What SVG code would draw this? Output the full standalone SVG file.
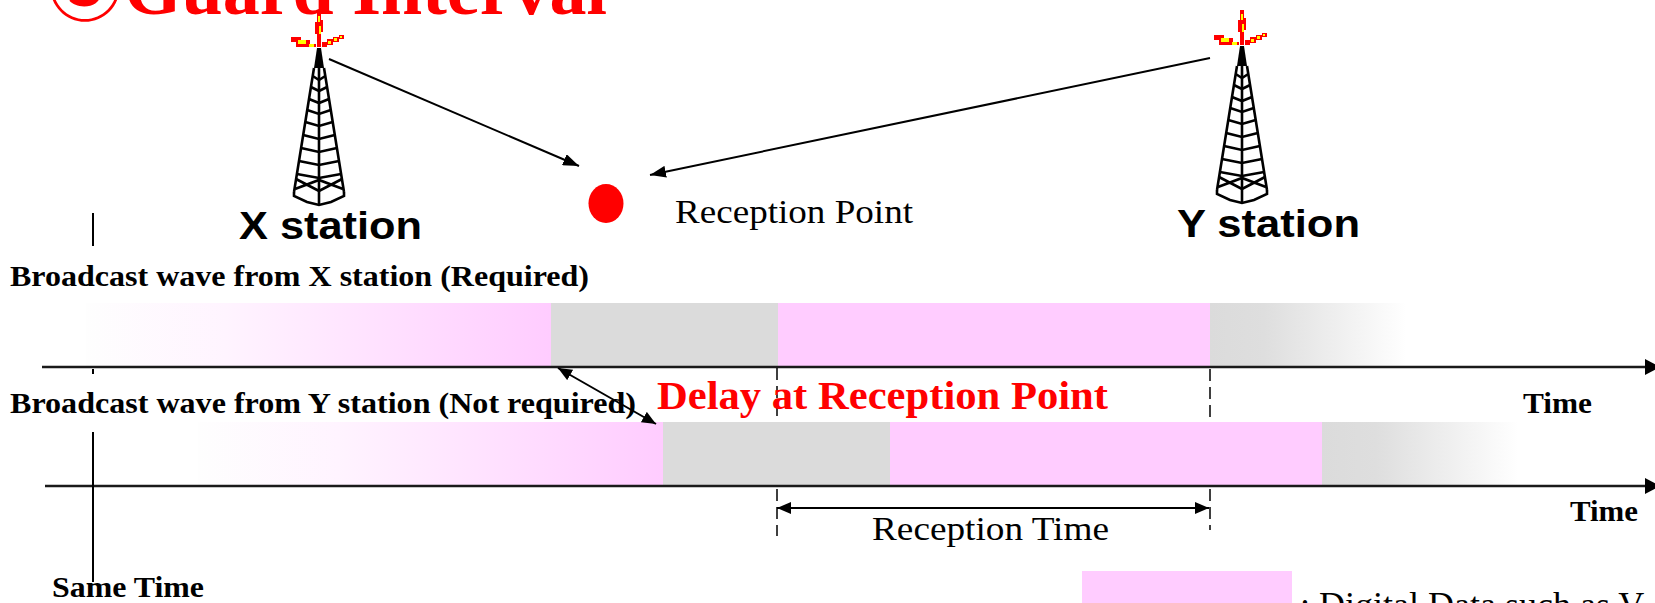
<svg xmlns="http://www.w3.org/2000/svg" width="1655" height="603" viewBox="0 0 1655 603">
  <style>
    .serif { font-family: "Liberation Serif", "Times New Roman", serif; }
    .sans { font-family: "Liberation Sans", Arial, sans-serif; }
    .bold { font-weight: bold; }
    .red { fill: #FF0000; }
    .ink { fill: #000000; }
    .axis { stroke: #1a1a1a; stroke-width: 2.5; fill: none; }
    .conn { stroke: #000000; stroke-width: 2; fill: none; }
    .dash { stroke: #000000; stroke-width: 1.5; stroke-dasharray: 12 6; fill: none; }
    .rule { stroke: #000000; stroke-width: 2; fill: none; }
    .tw { stroke: #000000; stroke-width: 2.6; fill: none; stroke-linejoin: miter; }
    .pink { fill: #FFCCFF; }
    .grey { fill: #DBDBDB; }
  </style>
  <defs>
    <linearGradient id="pinkIn" x1="0" y1="0" x2="1" y2="0">
      <stop offset="0" stop-color="#FEFEFE"/>
      <stop offset="0.3" stop-color="#FFF4FF"/>
      <stop offset="1" stop-color="#FFCCFF"/>
    </linearGradient>
    <linearGradient id="greyOut" x1="0" y1="0" x2="1" y2="0">
      <stop offset="0" stop-color="#DBDBDB"/>
      <stop offset="0.25" stop-color="#DEDEDE"/>
      <stop offset="0.9" stop-color="#FFFFFF"/>
    </linearGradient>
    <marker id="head" viewBox="0 0 16 12" refX="16" refY="6" markerWidth="16" markerHeight="12" markerUnits="userSpaceOnUse" orient="auto-start-reverse">
      <path d="M0,0 L16,6 L0,12 z" fill="#000"/>
    </marker>
    <marker id="axisHead" viewBox="0 0 15 16" refX="15" refY="8" markerWidth="15" markerHeight="16" markerUnits="userSpaceOnUse" orient="auto">
      <path d="M0,0 L15,8 L0,16 z" fill="#000"/>
    </marker>
    <marker id="smallHead" viewBox="0 0 14 12" refX="14" refY="6" markerWidth="14" markerHeight="12" markerUnits="userSpaceOnUse" orient="auto-start-reverse">
      <path d="M0,0 L14,6 L0,12 z" fill="#000"/>
    </marker>
    <!-- lattice transmission tower, spine at x=0 -->
    <g id="tower">
      <!-- antenna spark -->
      <polygon points="-2,10 2,10 2,18 4,18 4,30 2,30 2,45 -2,45 -2,32 -4,32 -4,20 -2,20" fill="#FF0000"/>
      <rect x="-1" y="14" width="2" height="6" fill="#FFFF00"/>
      <rect x="0" y="24" width="2" height="8" fill="#FFFF00"/>
      <polygon points="-28,35 -18,35 -18,38 -9,38 -9,42 -3,42 -3,45 -23,45 -23,40 -28,40" fill="#FF0000"/>
      <rect x="-21" y="38" width="8" height="4" fill="#FFFF00"/>
      <rect x="-10" y="42" width="5" height="3" fill="#FFFF00"/>
      <polygon points="3,45 3,40 8,40 8,37 14,37 14,35 20,35 20,33 25,33 25,37 20,37 20,40 14,40 14,43 8,43 8,45" fill="#FF0000"/>
      <rect x="9" y="39" width="3" height="3" fill="#FFFF00"/>
      <rect x="15" y="36" width="3" height="3" fill="#FFFF00"/>
      <rect x="21" y="34" width="2" height="2" fill="#FFFF00"/>
      <!-- mast -->
      <polygon points="-2,46 2,46 5,66 -5,66" fill="#000"/>
      <path class="tw" d="M-5,66 L-25,190 M5,66 L25,190 M0,46 V203"/>
      <path class="tw" d="M-6.3,74 L0,78 L6.3,74 M-8.1,85 L0,89 L8.1,85 M-10,97 L0,101 L10,97 M-11.8,108 L0,112 L11.8,108 M-13.7,120 L0,124 L13.7,120 M-15.8,133 L0,137 L15.8,133 M-17.9,146 L0,150 L17.9,146 M-20,159 L0,163 L20,159 M-22.1,172 L0,176 L22.1,172"/>
      <path class="tw" d="M-23,177 L0,189 L23,177 M-24,187 L0,178 L24,187"/>
      <path class="tw" d="M-25,190 L-25,194 L-12,200 L0,203 L12,200 L25,194 L25,190"/>
    </g>
  </defs>

  <rect width="1655" height="603" fill="#FFFFFF"/>

  <!-- heading -->
  <g id="title">
    <text x="48" y="14" class="serif bold red" font-size="74"><tspan font-family="'Noto Sans CJK JP', sans-serif" font-weight="bold">③</tspan><tspan x="124">Guard Interval</tspan></text>
  </g>

  <!-- transmitters and receiver -->
  <g id="tower-x">
    <use href="#tower" x="319" y="2"/>
    <text x="239" y="239" class="sans bold ink" font-size="38" textLength="183" lengthAdjust="spacingAndGlyphs">X station</text>
  </g>
  <g id="tower-y">
    <use href="#tower" x="1242" y="0"/>
    <text x="1177" y="237" class="sans bold ink" font-size="38" textLength="183" lengthAdjust="spacingAndGlyphs">Y station</text>
  </g>
  <g id="reception-point">
    <ellipse cx="606" cy="203.5" rx="17.5" ry="19.5" fill="#FF0000"/>
    <text x="675" y="223" class="serif ink" font-size="34" textLength="238" lengthAdjust="spacingAndGlyphs">Reception Point</text>
  </g>

  <!-- wave from X station -->
  <g id="timeline-x">
    <text x="10" y="286" class="serif bold ink" font-size="29" textLength="579" lengthAdjust="spacingAndGlyphs">Broadcast wave from X station (Required)</text>
    <rect x="86" y="303" width="465" height="64" fill="url(#pinkIn)"/>
    <rect x="551" y="303" width="227" height="64" class="grey"/>
    <rect x="778" y="303" width="432" height="64" class="pink"/>
    <rect x="1210" y="303" width="218" height="64" fill="url(#greyOut)"/>
    <line x1="42" y1="367" x2="1660" y2="367" class="axis" marker-end="url(#axisHead)"/>
    <text x="1523" y="413" class="serif bold ink" font-size="30" textLength="69" lengthAdjust="spacingAndGlyphs">Time</text>
  </g>

  <!-- wave from Y station -->
  <g id="timeline-y">
    <text x="10" y="413" class="serif bold ink" font-size="29" textLength="626" lengthAdjust="spacingAndGlyphs">Broadcast wave from Y station (Not required)</text>
    <rect x="198" y="422" width="465" height="64" fill="url(#pinkIn)"/>
    <rect x="663" y="422" width="227" height="64" class="grey"/>
    <rect x="890" y="422" width="432" height="64" class="pink"/>
    <rect x="1322" y="422" width="218" height="64" fill="url(#greyOut)"/>
    <line x1="45" y1="486" x2="1660" y2="486" class="axis" marker-end="url(#axisHead)"/>
    <text x="1570" y="521" class="serif bold ink" font-size="30" textLength="68" lengthAdjust="spacingAndGlyphs">Time</text>
  </g>

  <!-- common time reference -->
  <g id="same-time">
    <path class="rule" d="M93,213 V246 M93,369 V374 M93,432 V582"/>
    <text x="52" y="597" class="serif bold ink" font-size="30" textLength="152" lengthAdjust="spacingAndGlyphs">Same Time</text>
  </g>

  <!-- reception window markers -->
  <g id="reception-window">
    <path class="dash" d="M777,368 V422 M777,489 V536 M1210,369 V422 M1210,489 V530"/>
    <text x="872" y="540" class="serif ink" font-size="34" textLength="237" lengthAdjust="spacingAndGlyphs">Reception Time</text>
  </g>

  <text id="delay-label" x="657" y="409" class="serif bold red" font-size="40" textLength="451" lengthAdjust="spacingAndGlyphs">Delay at Reception Point</text>

  <g id="connectors">
    <line x1="329" y1="59" x2="579" y2="166" class="conn" marker-end="url(#head)"/>
    <line x1="1210" y1="58" x2="650" y2="175" class="conn" marker-end="url(#head)"/>
    <line x1="558" y1="368" x2="656" y2="424" class="conn" marker-start="url(#smallHead)" marker-end="url(#smallHead)"/>
    <line x1="777" y1="508" x2="1209" y2="508" class="conn" marker-start="url(#smallHead)" marker-end="url(#smallHead)"/>
  </g>

  <!-- legend -->
  <g id="legend">
    <rect x="1082" y="571" width="210" height="40" class="pink"/>
    <text x="1300" y="617" class="serif ink" font-size="36">: Digital Data such as V</text>
  </g>
</svg>
